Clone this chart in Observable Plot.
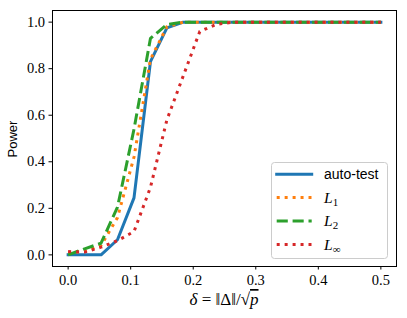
<!DOCTYPE html>
<html>
<head>
<meta charset="utf-8">
<script src="https://cdn.jsdelivr.net/npm/d3@7"></script>
<script src="https://cdn.jsdelivr.net/npm/@observablehq/plot@0.6"></script>
<style>
  html, body { margin: 0; padding: 0; background: #fff; }
  #chart { width: 407px; height: 318px; }
</style>
</head>
<body>
<div id="chart"></div>
<script>
// ---- data ----
const delta = [0, 0.0263, 0.0526, 0.0789, 0.1053, 0.1316, 0.1579, 0.1842, 0.2105, 0.2368,
               0.2632, 0.2895, 0.3158, 0.3421, 0.3684, 0.3947, 0.4211, 0.4474, 0.4737, 0.5];
const autoTest = [0, 0, 0, 0.065, 0.245, 0.83, 0.975, 1, 1, 1, 1, 1, 1, 1, 1, 1, 1, 1, 1, 1];
const L1       = [0.01, 0.015, 0.04, 0.16, 0.42, 0.84, 0.98, 1, 1, 1, 1, 1, 1, 1, 1, 1, 1, 1, 1, 1];
const L2       = [0, 0.026, 0.05, 0.205, 0.54, 0.93, 0.99, 1, 1, 1, 1, 1, 1, 1, 1, 1, 1, 1, 1, 1];
const Linf     = [0.014, 0.012, 0.033, 0.061, 0.10, 0.29, 0.58, 0.77, 0.96, 0.99, 1, 1, 1, 1, 1, 1, 1, 1, 1, 1];
const xTicks = [0, 0.1, 0.2, 0.3, 0.4, 0.5];
const yTicks = [0, 0.2, 0.4, 0.6, 0.8, 1.0];
const seriesNames = ["auto-test", "L1", "L2", "L∞"];

// ---- styles ----
const styles = [
  {color: "#1f77b4", dash: null, cap: "square"},
  {color: "#ff7f0e", dash: "3,4.95", cap: "butt"},
  {color: "#2ca02c", dash: "11.1,4.8", cap: "butt"},
  {color: "#d62728", dash: "3,4.95", cap: "butt"}
];
const seriesValues = [autoTest, L1, L2, Linf];

const W = 407, H = 318;
const mL = 52, mR = 11, mT = 10, mB = 52;

const lineMarks = seriesValues.map((vals, k) => {
  const rows = delta.map((d, i) => ({delta: d, power: vals[i]}));
  return Plot.line(rows, {
    x: "delta", y: "power",
    stroke: styles[k].color,
    strokeWidth: 3,
    strokeDasharray: styles[k].dash || undefined,
    strokeLinecap: styles[k].cap,
    strokeLinejoin: "round"
  });
});

const chart = Plot.plot({
  width: W, height: H,
  marginLeft: mL, marginRight: mR, marginTop: mT, marginBottom: mB,
  style: {fontFamily: "'Liberation Serif', serif", fontSize: "14.5px", color: "#000", background: "#fff"},
  x: {domain: [-0.025, 0.525], label: null},
  y: {domain: [-0.05, 1.05], label: null},
  marks: [
    ...lineMarks,
    Plot.frame({stroke: "#000", strokeWidth: 1}),
    Plot.axisX({ticks: xTicks, tickFormat: d3.format(".1f"), tickSize: 3.5, tickPadding: 5,
                fontSize: 14.5, label: null, stroke: "#000"}),
    Plot.axisY({ticks: yTicks, tickFormat: d3.format(".1f"), tickSize: 3.5, tickPadding: 4,
                fontSize: 14.5, label: null, stroke: "#000"})
  ]
});
document.getElementById("chart").appendChild(chart);

// ---- axis labels and legend ----
const svg = d3.select(chart);

// y label
svg.append("text")
  .attr("transform", "translate(17,139) rotate(-90)")
  .attr("text-anchor", "middle")
  .attr("font-family", "'Liberation Sans', sans-serif")
  .attr("font-size", 13)
  .attr("fill", "#000")
  .text("Power");

// x label: δ = ‖Δ‖/√p
const xl = svg.append("text")
  .attr("x", (mL + W - mR) / 2)
  .attr("y", 305)
  .attr("text-anchor", "middle")
  .attr("font-family", "'Liberation Serif', serif")
  .attr("font-size", 17)
  .attr("fill", "#000");
xl.append("tspan").attr("font-style", "italic").text("δ");
xl.append("tspan").text(" = ‖Δ‖/√");
xl.append("tspan").attr("font-style", "italic").attr("text-decoration", "overline").text("p");

// legend
const lg = svg.append("g").attr("text-anchor", "start");
lg.append("rect")
  .attr("x", 271.5).attr("y", 162.5).attr("width", 116).attr("height", 96)
  .attr("rx", 3).attr("fill", "#fff").attr("fill-opacity", 0.8)
  .attr("stroke", "#cccccc").attr("stroke-width", 1);
const rowsY = [174.3, 197.5, 221, 244.5];
seriesNames.forEach((name, k) => {
  const y = rowsY[k];
  lg.append("line")
    .attr("x1", 276.7).attr("x2", 311.7).attr("y1", y).attr("y2", y)
    .attr("stroke", styles[k].color).attr("stroke-width", 3)
    .attr("stroke-dasharray", styles[k].dash)
    .attr("stroke-linecap", styles[k].cap);
  const t = lg.append("text")
    .attr("x", 324).attr("y", y).attr("dy", "0.35em")
    .attr("text-anchor", "start")
    .attr("fill", "#000");
  if (k === 0) {
    t.attr("font-family", "'Liberation Sans', sans-serif").attr("font-size", 14).text(name);
  } else {
    t.attr("font-family", "'Liberation Serif', serif").attr("font-size", 15.5);
    t.append("tspan").attr("font-style", "italic").text(name[0]);
    t.append("tspan").attr("font-size", 11).attr("dy", 3).text(name.slice(1));
  }
});
</script>
</body>
</html>
